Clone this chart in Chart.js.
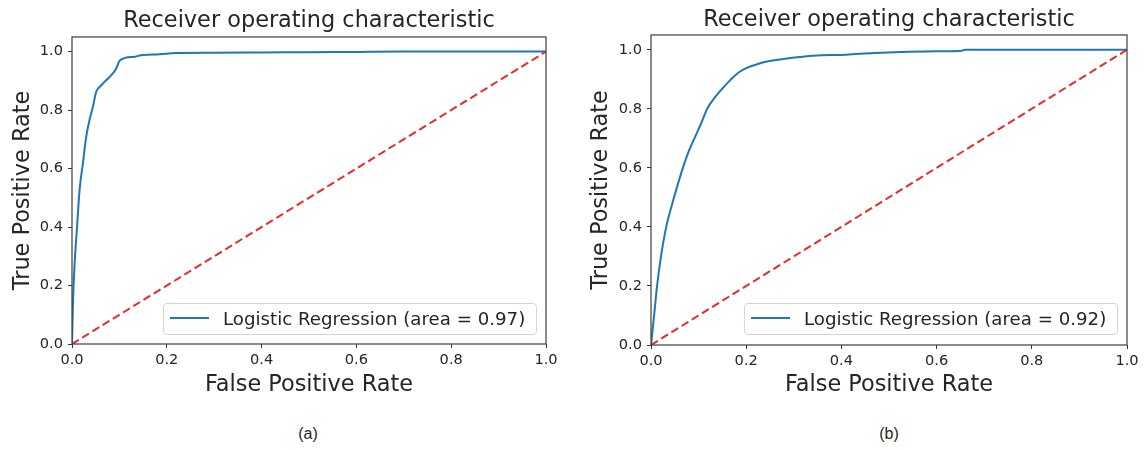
<!DOCTYPE html>
<html>
<head>
<meta charset="utf-8">
<script src="https://cdn.jsdelivr.net/npm/chart.js@4.4.1/dist/chart.umd.min.js"></script>
<style>
  body { margin: 0; background: #fff; }
  #wrap { position: relative; width: 1145px; height: 450px; font-family: "DejaVu Sans", sans-serif; color: #262626; }
  canvas { position: absolute; top: 0; }
  .legend { position: absolute; top: 303px; box-sizing: border-box; width: 374px; height: 32px; border: 1px solid #d4d4d4; border-radius: 4px; background: rgba(255,255,255,0.8); font-size: 18.2px; white-space: nowrap; }
  .legend .swatch { position: absolute; left: 6px; top: 13px; width: 39px; height: 2px; background: #1f77b4; }
  .legend .label { position: absolute; left: 59px; top: 4px; line-height: 22px; }
  .caption { position: absolute; top: 425px; font-family: "Liberation Sans", Arial, sans-serif; font-size: 16px; transform: translateX(-50%); }
</style>
</head>
<body>
<div id="wrap">
  <canvas id="rocA" width="572" height="400" style="left:0"></canvas>
  <canvas id="rocB" width="567" height="400" style="left:578px"></canvas>
  <div class="legend" style="left:163px"><span class="swatch"></span><span class="label">Logistic Regression (area = 0.97)</span></div>
  <div class="legend" style="left:744px"><span class="swatch"></span><span class="label">Logistic Regression (area = 0.92)</span></div>
  <div class="caption" style="left:308px">(a)</div>
  <div class="caption" style="left:889px">(b)</div>
</div>
<script>
// ROC curve (a)
const fprA = [0, 0.002, 0.0056, 0.0106, 0.016, 0.023, 0.030, 0.037, 0.044, 0.051, 0.062, 0.076, 0.087, 0.094, 0.100, 0.108, 0.115, 0.132, 0.143, 0.185, 0.22, 0.30, 0.40, 0.50, 0.60, 0.70, 0.80, 0.90, 1.0];
const tprA = [0, 0.14, 0.276, 0.40, 0.527, 0.618, 0.709, 0.766, 0.811, 0.862, 0.885, 0.908, 0.927, 0.945, 0.968, 0.976, 0.980, 0.982, 0.987, 0.991, 0.995, 0.996, 0.997, 0.998, 0.999, 1.0, 1.0, 1.0, 1.0];

// ROC curve (b)
const fprB = [0, 0.0056, 0.0126, 0.021, 0.032, 0.044, 0.055, 0.067, 0.079, 0.093, 0.107, 0.118, 0.133, 0.149, 0.167, 0.184, 0.20, 0.223, 0.244, 0.293, 0.341, 0.41, 0.467, 0.523, 0.60, 0.65, 0.66, 0.80, 1.0];
const tprB = [0, 0.085, 0.198, 0.30, 0.40, 0.475, 0.537, 0.60, 0.655, 0.706, 0.757, 0.80, 0.836, 0.867, 0.898, 0.923, 0.938, 0.951, 0.960, 0.972, 0.980, 0.983, 0.989, 0.992, 0.995, 0.996, 1.0, 1.0, 1.0];

// chance line
const diagX = [0, 1];
const diagY = [0, 1];

const xTicks = [0, 0.2, 0.4, 0.6, 0.8, 1.0];
const yTicks = [0, 0.2, 0.4, 0.6, 0.8, 1.0];

const BLUE = '#1f77b4';
const RED = '#e52b2b';
const TEXT = '#262626';
const FONT = '"DejaVu Sans", sans-serif';

const frame = {
  id: 'frame',
  afterDatasetsDraw(chart) {
    const { ctx, chartArea: a } = chart;
    ctx.save();
    ctx.strokeStyle = '#3c3c3c';
    ctx.lineWidth = 1.2;
    ctx.strokeRect(a.left, a.top, a.right - a.left, a.bottom - a.top);
    ctx.restore();
  }
};

function axis(label, min, max, ticks, fit) {
  const vertical = label === 'True Positive Rate';
  return {
    type: 'linear',
    min: min,
    max: max,
    afterBuildTicks: s => { s.ticks = ticks.map(v => ({ value: v })); },
    afterFit: fit,
    ticks: {
      color: TEXT,
      font: { family: FONT, size: 14.6 },
      padding: vertical ? 5 : 3,
      maxRotation: 0,
      callback: v => v.toFixed(1)
    },
    grid: { drawOnChartArea: false, tickLength: 4, tickColor: '#333', tickWidth: 1 },
    border: { display: false },
    title: {
      display: true,
      text: label,
      color: TEXT,
      font: { family: FONT, size: 22.4 },
      padding: vertical ? { top: 10, bottom: 10 } : { top: 1, bottom: 1 }
    }
  };
}

function rocChart(id, fpr, tpr, geo) {
  return new Chart(document.getElementById(id), {
    type: 'line',
    data: {
      datasets: [
        {
          data: diagX.map((x, i) => ({ x: x, y: diagY[i] })),
          borderColor: RED,
          borderWidth: 2,
          borderDash: [8, 4],
          pointRadius: 0
        },
        {
          data: fpr.map((x, i) => ({ x: x, y: tpr[i] })),
          borderColor: BLUE,
          borderWidth: 2,
          pointRadius: 0,
          cubicInterpolationMode: 'monotone'
        }
      ]
    },
    options: {
      responsive: false,
      animation: false,
      events: [],
      layout: { padding: { left: 0, right: geo.padRight, top: 0, bottom: 0 } },
      plugins: {
        legend: { display: false },
        tooltip: { enabled: false },
        title: {
          display: true,
          text: 'Receiver operating characteristic',
          fullSize: false,
          color: TEXT,
          font: { family: FONT, size: 22.4, weight: 'normal' },
          padding: { top: geo.titleTop, bottom: geo.titleBottom }
        }
      },
      scales: {
        x: axis('False Positive Rate', 0, 1, xTicks, s => { s.height = geo.xHeight; }),
        y: axis('True Positive Rate', 0, 1.05, yTicks, s => { s.width = geo.yWidth; })
      }
    },
    plugins: [frame]
  });
}

rocChart('rocA', fprA, tprA, { yWidth: 72, padRight: 26, xHeight: 56, titleTop: 8, titleBottom: 2.1 });
rocChart('rocB', fprB, tprB, { yWidth: 73, padRight: 18, xHeight: 55, titleTop: 7, titleBottom: 1.1 });
</script>
</body>
</html>
